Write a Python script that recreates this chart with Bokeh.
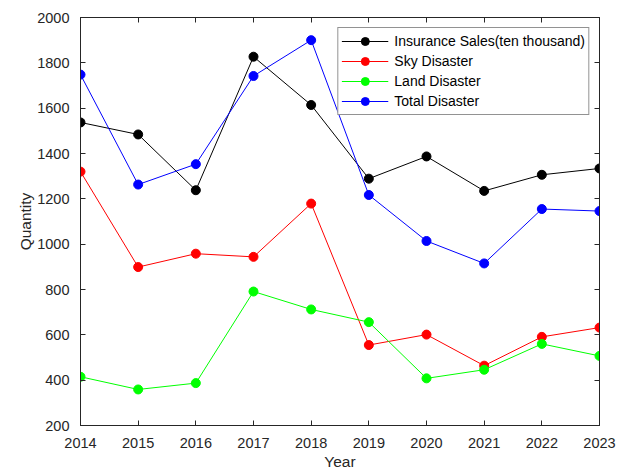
from bokeh.plotting import figure
from bokeh.models import Range1d, FixedTicker, LinearAxis
from bokeh.embed import file_html
from bokeh.resources import INLINE

years = [2014, 2015, 2016, 2017, 2018, 2019, 2020, 2021, 2022, 2023]
insurance = [1537, 1484, 1238, 1827, 1614, 1289, 1387, 1235, 1306, 1334]
sky = [1320, 899, 958, 944, 1179, 555, 601, 464, 591, 632]
land = [415, 359, 387, 791, 712, 656, 408, 446, 560, 507]
total = [1748, 1263, 1353, 1742, 1900, 1217, 1014, 915, 1155, 1146]
y_ticks = [200, 400, 600, 800, 1000, 1200, 1400, 1600, 1800, 2000]

series = [
    ("Insurance Sales(ten thousand)", insurance, "#000000"),
    ("Sky Disaster", sky, "#ff0000"),
    ("Land Disaster", land, "#00ff00"),
    ("Total Disaster", total, "#0000ff"),
]

FONT = "Liberation Sans"
AX = "#262626"

p = figure(width=618, height=472, output_backend="svg", toolbar_location=None,
           x_range=Range1d(2014, 2023), y_range=Range1d(200, 2000),
           min_border_left=80, min_border_right=19, min_border_top=17, min_border_bottom=47,
           background_fill_color="white", border_fill_color="white")
p.grid.visible = False
p.outline_line_color = AX

p.xaxis.ticker = FixedTicker(ticks=years)
p.yaxis.ticker = FixedTicker(ticks=y_ticks)
p.xaxis.axis_label = "Year"
p.yaxis.axis_label = "Quantity"

for ax in [p.xaxis[0], p.yaxis[0]]:
    ax.axis_line_color = AX
    ax.major_tick_line_color = AX
    ax.major_tick_in = 5
    ax.major_tick_out = 0
    ax.minor_tick_line_color = None
    ax.major_label_text_font = FONT
    ax.major_label_text_font_size = "14.5px"
    ax.major_label_text_color = AX
    ax.axis_label_text_font = FONT
    ax.axis_label_text_font_size = "15.5px"
    ax.axis_label_text_font_style = "normal"
    ax.axis_label_text_color = AX
p.xaxis.major_label_standoff = 12
p.xaxis.axis_label_standoff = 2
p.yaxis.major_label_standoff = 11
p.yaxis.axis_label_standoff = 0

top = LinearAxis(ticker=FixedTicker(ticks=years))
right = LinearAxis(ticker=FixedTicker(ticks=y_ticks))
for ax in [top, right]:
    ax.axis_line_color = AX
    ax.major_tick_line_color = AX
    ax.major_tick_in = 5
    ax.major_tick_out = 0
    ax.minor_tick_line_color = None
    ax.major_label_text_font_size = "0px"
    ax.major_label_standoff = 0
    ax.major_label_text_alpha = 0
p.add_layout(top, "above")
p.add_layout(right, "right")

for label, vals, color in series:
    p.line(years, vals, line_color=color, line_width=1, legend_label=label)
    p.scatter(years, vals, size=9, fill_color=color, line_color=color, legend_label=label)

lg = p.legend[0]
lg.location = "top_right"
lg.margin = 10
lg.padding = 3
lg.spacing = 0
lg.label_height = 20
lg.glyph_height = 20
lg.glyph_width = 47
lg.label_standoff = 6
lg.label_text_font = FONT
lg.label_text_font_size = "14px"
lg.label_text_color = "#000000"
lg.border_line_color = AX
lg.border_line_width = 1
lg.background_fill_color = "white"
lg.background_fill_alpha = 1

open("out.html", "w").write(file_html(p, INLINE))
